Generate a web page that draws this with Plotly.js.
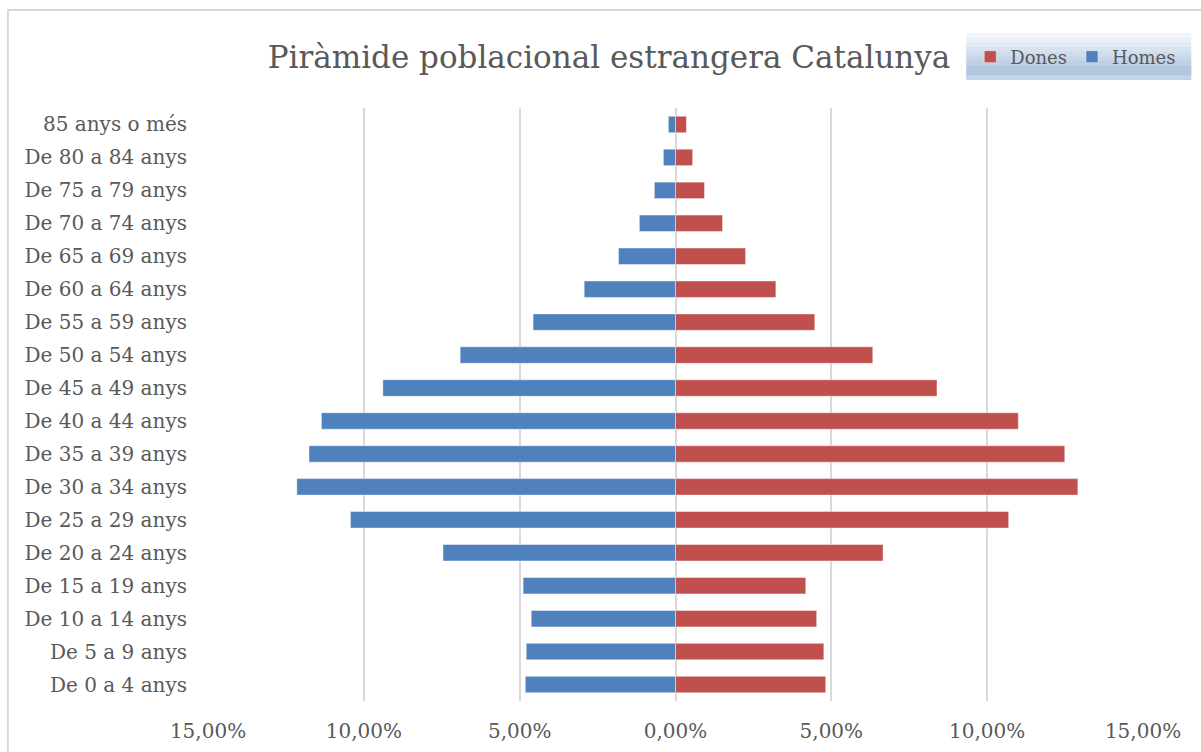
<!DOCTYPE html>
<html>
<head>
<meta charset="utf-8">
<script src="https://cdn.plot.ly/plotly-3.0.1.min.js"></script>
<style>
  body { margin: 0; background: #fff; }
  #chart { width: 1201px; height: 752px; }
</style>
</head>
<body>
<div id="chart"></div>
<script>
// age groups, bottom to top
const ageGroups = [
  'De 0 a 4 anys', 'De 5 a 9 anys', 'De 10 a 14 anys', 'De 15 a 19 anys',
  'De 20 a 24 anys', 'De 25 a 29 anys', 'De 30 a 34 anys', 'De 35 a 39 anys',
  'De 40 a 44 anys', 'De 45 a 49 anys', 'De 50 a 54 anys', 'De 55 a 59 anys',
  'De 60 a 64 anys', 'De 65 a 69 anys', 'De 70 a 74 anys', 'De 75 a 79 anys',
  'De 80 a 84 anys', '85 anys o més'
];

// percentages of foreign population
const homes = [4.82, 4.79, 4.63, 4.89, 7.46, 10.43, 12.15, 11.76, 11.36, 9.39,
  6.91, 4.57, 2.93, 1.83, 1.16, 0.68, 0.39, 0.23];
const dones = [4.82, 4.76, 4.53, 4.18, 6.66, 10.69, 12.91, 12.49, 11.0, 8.39,
  6.33, 4.47, 3.22, 2.25, 1.51, 0.93, 0.55, 0.35];

const tickVals = [-15, -10, -5, 0, 5, 10, 15];
const tickText = ['15,00%', '10,00%', '5,00%', '0,00%', '5,00%', '10,00%', '15,00%'];

const font = 'DejaVu Serif, Liberation Serif, serif';
const grey = '#595959';

const traceDones = {
  type: 'bar',
  orientation: 'h',
  name: 'Dones',
  y: ageGroups,
  x: dones,
  marker: { color: '#c0504d', line: { color: 'rgba(255,255,255,0.45)', width: 1 } },
  hoverinfo: 'skip'
};

const traceHomes = {
  type: 'bar',
  orientation: 'h',
  name: 'Homes',
  y: ageGroups,
  x: homes.map(v => -v),
  marker: { color: '#4f81bd', line: { color: 'rgba(255,255,255,0.45)', width: 1 } },
  hoverinfo: 'skip'
};

// legend background, a simple vertical gradient made of bands
const px = v => (v - 208) / (1142.7 - 208);
const py = v => (701 - v) / (701 - 108);
const bandColors = ['#f2f6fb', '#eaf0f8', '#e1e9f4', '#d8e3f0', '#cfdcec', '#c6d5e8',
  '#bdcee5', '#b5c8e2', '#b3c6e1', '#c4d3e8'];
const lx0 = 966, lx1 = 1191, ly0 = 33, ly1 = 80;
const bandH = (ly1 - ly0) / bandColors.length;
const legendBands = bandColors.map((c, i) => ({
  type: 'rect', xref: 'paper', yref: 'paper', layer: 'below',
  x0: px(lx0), x1: px(lx1),
  y0: py(ly0 + i * bandH), y1: py(Math.min(ly1, ly0 + (i + 1) * bandH + 1)),
  fillcolor: c, line: { width: 0 }
}));

const layout = {
  width: 1201,
  height: 752,
  margin: { l: 208, r: 58, t: 108, b: 51 },
  paper_bgcolor: '#ffffff',
  plot_bgcolor: '#ffffff',
  font: { family: font, color: grey, size: 20 },
  title: {
    text: 'Piràmide poblacional estrangera Catalunya',
    font: { family: font, size: 31, color: grey },
    x: 609 / 1201, xanchor: 'center',
    y: 1 - 57 / 752, yanchor: 'middle'
  },
  barmode: 'overlay',
  bargap: 0.5,
  showlegend: true,
  legend: {
    orientation: 'h',
    x: px(970), xanchor: 'left',
    y: py(57), yanchor: 'middle',
    bgcolor: 'rgba(0,0,0,0)',
    font: { family: font, size: 18, color: grey },
    traceorder: 'normal',
    itemwidth: 30
  },
  xaxis: {
    range: [-15, 15],
    tickvals: tickVals,
    ticktext: tickText,
    showgrid: true,
    gridcolor: '#d9d9d9',
    gridwidth: 2,
    zeroline: true,
    zerolinecolor: '#d9d9d9',
    zerolinewidth: 2,
    showline: false,
    ticks: '',
    ticklabelstandoff: 16,
    tickfont: { family: font, size: 20, color: grey },
    fixedrange: true
  },
  yaxis: {
    type: 'category',
    showgrid: false,
    zeroline: false,
    showline: false,
    ticks: '',
    ticklabelstandoff: 20,
    tickfont: { family: font, size: 20, color: grey },
    fixedrange: true
  },
  shapes: [
    {
      type: 'rect', xref: 'paper', yref: 'paper', layer: 'below',
      x0: px(8), x1: px(1215), y0: py(10), y1: py(770),
      fillcolor: 'rgba(0,0,0,0)', line: { color: '#d9d9d9', width: 2 }
    }
  ].concat(legendBands)
};

Plotly.newPlot('chart', [traceDones, traceHomes], layout, { displayModeBar: false, staticPlot: true });
</script>
</body>
</html>
